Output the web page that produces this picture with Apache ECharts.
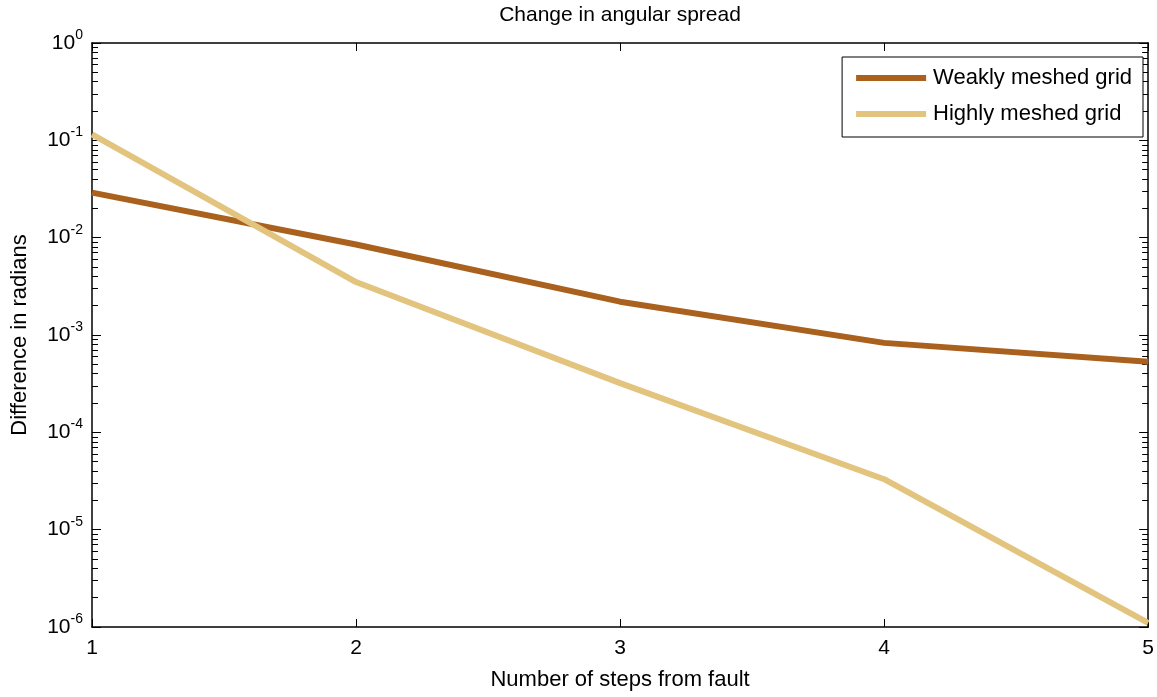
<!DOCTYPE html>
<html>
<head>
<meta charset="utf-8">
<script src="https://cdn.jsdelivr.net/npm/echarts@6/dist/echarts.min.js"></script>
<style>
  html, body { margin: 0; padding: 0; background: #fff; }
  #chart { width: 1157px; height: 697px; }
</style>
</head>
<body>
<div id="chart"></div>
<script>
// steps from fault
const steps = [1, 2, 3, 4, 5];
// difference in radians
const weakly = [0.029, 0.0085, 0.0022, 0.00083, 0.00053];
const highly = [0.115, 0.0035, 0.00032, 0.000033, 0.0000011];
const decades = [1e-6, 1e-5, 1e-4, 1e-3, 1e-2, 1e-1, 1];

// minor ticks 2..9 for each decade
const minorVals = [];
decades.slice(0, -1).forEach((d) => {
  for (let k = 2; k <= 9; k++) minorVals.push(+(d * k).toPrecision(3));
});

const font = "Liberation Sans, Arial, sans-serif";

const yLabel = {
  fontSize: 21,
  color: "#000",
  fontFamily: font,
  margin: 9,
  formatter: (v) => "10{sup|" + Math.round(Math.log10(v)) + "}",
  rich: {
    sup: { fontSize: 14, fontFamily: font, color: "#000", padding: [0, 0, 16, 0] },
  },
};

const yBase = {
  type: "log",
  logBase: 10,
  min: 1e-6,
  max: 1,
  splitLine: { show: false },
};

const chart = echarts.init(document.getElementById("chart"));
chart.setOption({
  animation: false,
  title: {
    text: "Change in angular spread",
    left: 615,
    textAlign: "center",
    top: 0,
    textStyle: { fontSize: 21, fontWeight: "normal", color: "#000", fontFamily: font },
  },
  legend: {
    right: 14,
    top: 57,
    orient: "vertical",
    padding: [10, 11, 12, 14],
    itemGap: 14,
    itemWidth: 70,
    itemHeight: 6,
    icon: "rect",
    borderColor: "#000",
    borderWidth: 1,
    backgroundColor: "#fff",
    textStyle: { fontSize: 22, color: "#000", fontFamily: font, padding: [0, 0, 0, 2] },
    data: ["Weakly meshed grid", "Highly meshed grid"],
  },
  grid: { left: 92, right: 4, top: 43, bottom: 70 },
  xAxis: [
    {
      type: "value",
      min: 1,
      max: 5,
      interval: 1,
      name: "Number of steps from fault",
      nameLocation: "middle",
      nameGap: 42,
      nameTextStyle: { fontSize: 22, color: "#000", fontFamily: font },
      axisLine: { lineStyle: { color: "#000", width: 1.5 } },
      axisTick: { inside: true, length: 8, lineStyle: { color: "#000" } },
      axisLabel: { fontSize: 21, color: "#000", fontFamily: font, margin: 11 },
      splitLine: { show: false },
    },
    {
      type: "value",
      position: "top",
      min: 1,
      max: 5,
      interval: 1,
      axisLine: { lineStyle: { color: "#000", width: 1.5 } },
      axisTick: { inside: true, length: 8, lineStyle: { color: "#000" } },
      axisLabel: { show: false },
      splitLine: { show: false },
    },
  ],
  yAxis: [
    Object.assign({}, yBase, {
      name: "Difference in radians",
      nameLocation: "middle",
      nameGap: 61,
      nameTextStyle: { fontSize: 22, color: "#000", fontFamily: font },
      axisLine: { lineStyle: { color: "#000", width: 1.5 } },
      axisTick: { inside: true, length: 9, lineStyle: { color: "#000" } },
      axisLabel: yLabel,
    }),
    Object.assign({}, yBase, {
      position: "left",
      axisLine: { show: false },
      axisTick: { inside: true, length: 6, customValues: minorVals, lineStyle: { color: "#000" } },
      axisLabel: { show: false },
    }),
    Object.assign({}, yBase, {
      position: "right",
      axisLine: { show: true, lineStyle: { color: "#000", width: 1.5 } },
      axisTick: { inside: true, length: 9, lineStyle: { color: "#000" } },
      axisLabel: { show: false },
    }),
    Object.assign({}, yBase, {
      position: "right",
      axisLine: { show: false },
      axisTick: { inside: true, length: 6, customValues: minorVals, lineStyle: { color: "#000" } },
      axisLabel: { show: false },
    }),
  ],
  series: [
    {
      name: "Weakly meshed grid",
      type: "line",
      data: steps.map((s, i) => [s, weakly[i]]),
      showSymbol: false,
      lineStyle: { width: 6, color: "#A9611D" },
      itemStyle: { color: "#A9611D" },
    },
    {
      name: "Highly meshed grid",
      type: "line",
      data: steps.map((s, i) => [s, highly[i]]),
      showSymbol: false,
      lineStyle: { width: 6, color: "#E2C47E" },
      itemStyle: { color: "#E2C47E" },
    },
  ],
});
</script>
</body>
</html>
